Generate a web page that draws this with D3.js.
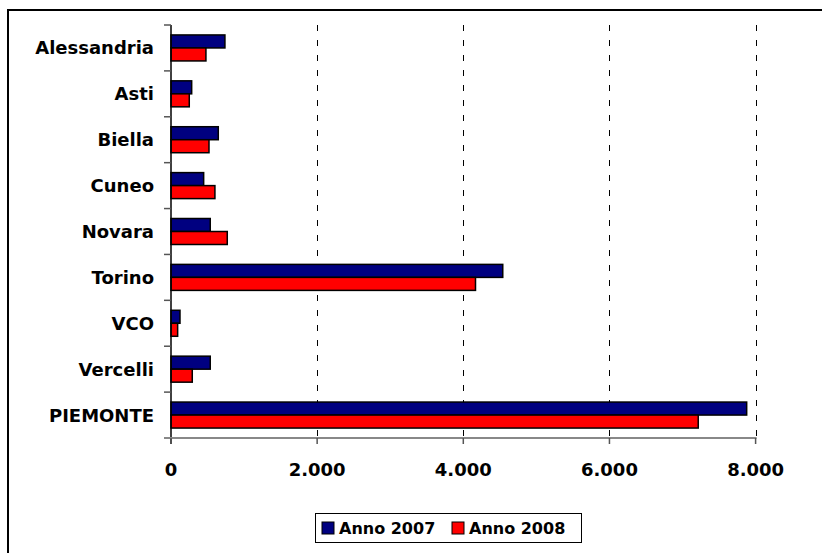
<!DOCTYPE html>
<html><head><meta charset="utf-8">
<script src="https://cdn.jsdelivr.net/npm/d3@7"></script>
<style>body{margin:0;background:#fff}svg{display:block;font-family:"DejaVu Sans",Verdana,sans-serif;font-weight:bold}</style>
</head><body>
<svg id="c" width="822" height="553"></svg>
<script>
const categories = ["Alessandria","Asti","Biella","Cuneo","Novara","Torino","VCO","Vercelli","PIEMONTE"];
const anno2007 = [738, 283, 647, 447, 537, 4540, 123, 537, 7878];
const anno2008 = [478, 250, 520, 601, 770, 4167, 91, 291, 7215];
const seriesNames = ["Anno 2007","Anno 2008"];
const seriesColors = ["#000080","#FF0000"];
const xTicks = [0, 2000, 4000, 6000, 8000];
const xTickLabels = ["0","2.000","4.000","6.000","8.000"];

(function(){
const svg = d3.select("#c");
// outer frame
svg.append("rect").attr("x",8).attr("y",10).attr("width",830).attr("height",560)
  .attr("fill","none").attr("stroke","#000").attr("stroke-width",2);

const pl = 171, pr = 755.6, pt = 25, pb = 438;
const x = d3.scaleLinear().domain([0,8000]).range([pl,pr]);
const y = d3.scaleBand().domain(categories).range([pt,pb]).padding(0);
const yi = d3.scaleBand().domain(seriesNames).range([0,y.bandwidth()]).paddingInner(0).paddingOuter(0.765);

// gridlines
svg.append("g").selectAll("line").data(xTicks.slice(1)).join("line")
  .attr("x1",d=>Math.round(x(d))+0.5).attr("x2",d=>Math.round(x(d))+0.5)
  .attr("y1",pt).attr("y2",pb)
  .attr("stroke","#000").attr("stroke-width",1).attr("stroke-dasharray","6,9");

// bars
const data = categories.map((c,i)=>({c, v:[anno2007[i], anno2008[i]]}));
const g = svg.append("g");
data.forEach(d=>{
  d.v.forEach((v,j)=>{
    g.append("rect")
      .attr("x",x(0)).attr("y",y(d.c)+yi(seriesNames[j]))
      .attr("width",x(v)-x(0)).attr("height",yi.bandwidth())
      .attr("fill",seriesColors[j]).attr("stroke","#000").attr("stroke-width",1.5);
  });
});

// y axis
const yAxisG = svg.append("g").attr("transform",`translate(${pl},0)`);
yAxisG.append("line").attr("x1",0).attr("x2",0).attr("y1",pt).attr("y2",pb+6).attr("stroke","#000").attr("stroke-width",1.5);
const yTickPos = d3.range(categories.length+1).map(i=>pt+i*y.step());
yAxisG.selectAll("line.t").data(yTickPos).join("line").attr("class","t")
  .attr("x1",-7).attr("x2",0).attr("y1",d=>d).attr("y2",d=>d).attr("stroke","#555").attr("stroke-width",1.5);
svg.append("g").selectAll("text").data(categories).join("text")
  .attr("x",154).attr("y",d=>y(d)+y.bandwidth()/2).attr("dy","0.36em")
  .attr("text-anchor","end").attr("font-size",18).attr("fill","#000").text(d=>d);

// x axis
const xAxisG = svg.append("g");
xAxisG.append("line").attr("x1",pl-7).attr("x2",pr+1).attr("y1",pb).attr("y2",pb).attr("stroke","#888").attr("stroke-width",2);
xAxisG.selectAll("line.t").data(xTicks).join("line").attr("class","t")
  .attr("x1",d=>x(d)).attr("x2",d=>x(d)).attr("y1",pb).attr("y2",pb+6).attr("stroke","#555").attr("stroke-width",1.5);
xAxisG.selectAll("text").data(xTicks).join("text")
  .attr("x",d=>x(d)).attr("y",470).attr("dy","0.36em").attr("text-anchor","middle")
  .attr("font-size",18).attr("fill","#000").text((d,i)=>xTickLabels[i]);

// legend
const lg = svg.append("g");
lg.append("rect").attr("x",315.5).attr("y",513.5).attr("width",266).attr("height",29)
  .attr("fill","#fff").attr("stroke","#000").attr("stroke-width",1);
const lx = [322, 452];
seriesNames.forEach((s,j)=>{
  lg.append("rect").attr("x",lx[j]).attr("y",522).attr("width",12).attr("height",12)
    .attr("fill",seriesColors[j]).attr("stroke","#000").attr("stroke-width",1);
  lg.append("text").attr("x",lx[j]+17).attr("y",528).attr("dy","0.36em")
    .attr("font-size",16).attr("fill","#000").text(s);
});
})();
</script>
</body></html>
